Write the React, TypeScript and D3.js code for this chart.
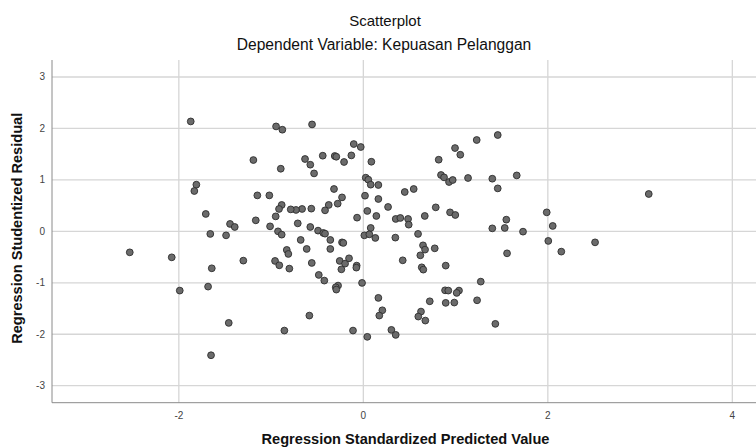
import React from "react";
import * as d3 from "d3";

const titleText = "Scatterplot";
const subtitleText = "Dependent Variable: Kepuasan Pelanggan";
const xAxisTitle = "Regression Standardized Predicted Value";
const yAxisTitle = "Regression Studentized Residual";

const xTicks = [-2, 0, 2, 4];
const yTicks = [-3, -2, -1, 0, 1, 2, 3];

const predicted = [
  -1.871, -1.192, -1.81, -1.832, -1.149, -1.019, -1.708, -1.445, -1.394, -1.166, -1.011, -1.659, -1.488,
  -2.532, -2.077, -1.643, -1.301, -1.99, -1.683, -1.459, -1.651,
  -0.946, -0.878, -0.556, -0.104, -0.028, -0.632, -0.575, -0.534, -0.44, -0.31, -0.293, -0.209, -0.13, -0.895, 0.087, 0.817, 0.842, 0.875,
  0.026, 0.054, 0.08, 0.163, -0.318, -0.231, -0.278, -0.375, -0.415, 0.018, 0.163, 0.449, 0.546, 0.268, 0.043, 0.141, -0.068, -0.564, -0.664, -0.73, -0.787, -0.885, -0.914, -0.95,
  -0.711, -0.575, -0.491, -0.434, -0.415, -0.925, -0.885, -0.679, -0.358, -0.231, -0.217, 0.08, 0.011, 0.065, 0.13, 0.351, 0.401, 0.485, 0.492, 0.666, 0.785, 0.347, 0.593,
  0.647, 0.669, 0.618, 0.774, -0.83, -0.813, -0.614, -0.358, -0.957, -0.911, -0.802, -0.559, -0.256, -0.198, -0.155, -0.238, -0.072, -0.076, 0.427, 0.633, 0.65,
  -0.483, -0.423, -0.274, -0.299, -0.293, -0.014, 0.163, 0.206, 0.173, -0.585, -0.856, -0.112, 0.043, 0.304, 0.351,
  0.72, 0.625, 0.596, 0.672,
  1.229, 1.457, 0.994, 1.051, 0.929, 0.969, 1.135, 1.398, 1.457, 1.663, 0.94, 0.997, 1.55, 1.398, 1.533, 1.731, 1.988, 2.053, 2.005, 2.512,
  2.146, 1.558, 0.893, 1.273, 0.886, 0.921, 1.037, 1.012, 0.893, 0.986, 1.233, 1.431,
  3.094,
];

const residual = [
  2.136, 1.386, 0.907, 0.784, 0.699, 0.699, 0.338, 0.144, 0.085, 0.214, 0.097, -0.05, -0.078,
  -0.408, -0.505, -0.718, -0.569, -1.151, -1.074, -1.779, -2.408,
  2.039, 1.975, 2.078, 1.697, 1.639, 1.406, 1.295, 1.126, 1.47, 1.464, 1.45, 1.348, 1.476, 1.217, 1.353, 1.392, 1.095, 1.049,
  1.043, 1.004, 0.907, 0.901, 0.823, 0.66, 0.538, 0.513, 0.408, 0.693, 0.629, 0.765, 0.823, 0.474, 0.396, 0.299, 0.266, 0.441, 0.435, 0.416, 0.427, 0.513, 0.435, 0.291,
  0.155, 0.085, 0.014, -0.031, -0.045, 0.0, -0.064, -0.167, -0.167, -0.214, -0.225, 0.066, -0.078, -0.058, -0.128, 0.241, 0.26, 0.241, 0.13, 0.299, 0.466, -0.122, -0.05,
  -0.272, -0.355, -0.466, -0.33, -0.361, -0.439, -0.342, -0.342, -0.575, -0.66, -0.724, -0.614, -0.575, -0.627, -0.524, -0.738, -0.666, -0.705, -0.563, -0.699, -0.744,
  -0.847, -0.957, -1.054, -1.087, -1.132, -1.002, -1.293, -1.534, -1.637, -1.637, -1.928, -1.928, -2.05, -1.915, -2.012,
  -1.359, -1.559, -1.656, -1.734,
  1.775, 1.872, 1.619, 1.489, 0.959, 0.998, 1.037, 1.023, 0.835, 1.087, 0.369, 0.318, 0.227, 0.058, 0.066, -0.006, 0.369, 0.105, -0.186, -0.214,
  -0.394, -0.427, -0.666, -0.977, -1.146, -1.151, -1.151, -1.196, -1.39, -1.384, -1.34, -1.798,
  0.726,
];

const W = 756;
const H = 447;
const plotLeft = 52;
const plotRight = 760;
const plotTop = 60;
const plotBottom = 402.7;
const FONT = "'Liberation Sans', Arial, Helvetica, sans-serif";

export default function App() {
  const x = d3.scaleLinear().domain([-3.375, 4.3]).range([plotLeft, plotRight]);
  const y = d3.scaleLinear().domain([-3.33, 3.33]).range([plotBottom, plotTop]);
  const points = d3.zip(predicted, residual);
  const centerX = (plotLeft + plotRight) / 2;

  return (
    <svg
      width={W}
      height={H}
      style={{ position: "absolute", left: 0, top: 0, display: "block", background: "#fff" }}
    >
      <rect x={0} y={0} width={W} height={H} fill="#fff" />
      <g>
        {yTicks.map((t) => (
          <line key={"gy" + t} x1={plotLeft} x2={plotRight} y1={y(t)} y2={y(t)} stroke="#d6d6d6" strokeWidth={1.3} />
        ))}
        {xTicks.map((t) => (
          <line key={"gx" + t} x1={x(t)} x2={x(t)} y1={plotTop} y2={plotBottom} stroke="#d6d6d6" strokeWidth={1.3} />
        ))}
      </g>
      <line x1={plotLeft} x2={plotLeft} y1={plotTop} y2={plotBottom} stroke="#8a8a8a" strokeWidth={1} />
      <line x1={plotLeft} x2={plotRight} y1={plotBottom} y2={plotBottom} stroke="#8a8a8a" strokeWidth={1} />
      <g fontFamily={FONT} fontSize={10} fill="#444">
        {yTicks.map((t) => (
          <text key={"ty" + t} x={45} y={y(t)} dy="0.35em" textAnchor="end">
            {t}
          </text>
        ))}
        {xTicks.map((t) => (
          <text key={"tx" + t} x={x(t)} y={419} textAnchor="middle">
            {t}
          </text>
        ))}
      </g>
      <g>
        {points.map(([px, py], i) => (
          <circle key={i} cx={x(px)} cy={y(py)} r={3.4} fill="#6b6b6b" stroke="#2e2e2e" strokeWidth={0.9} />
        ))}
      </g>
      <text x={385} y={26} textAnchor="middle" fontFamily={FONT} fontSize={15} fill="#111">
        {titleText}
      </text>
      <text x={384} y={50} textAnchor="middle" fontFamily={FONT} fontSize={15.6} fill="#111">
        {subtitleText}
      </text>
      <text x={405.5} y={444} textAnchor="middle" fontFamily={FONT} fontSize={14.6} fontWeight="bold" fill="#111">
        {xAxisTitle}
      </text>
      <text
        transform={`translate(21.7, 228.3) rotate(-90)`}
        textAnchor="middle"
        fontFamily={FONT}
        fontSize={14.6}
        fontWeight="bold"
        fill="#111"
      >
        {yAxisTitle}
      </text>
    </svg>
  );
}
